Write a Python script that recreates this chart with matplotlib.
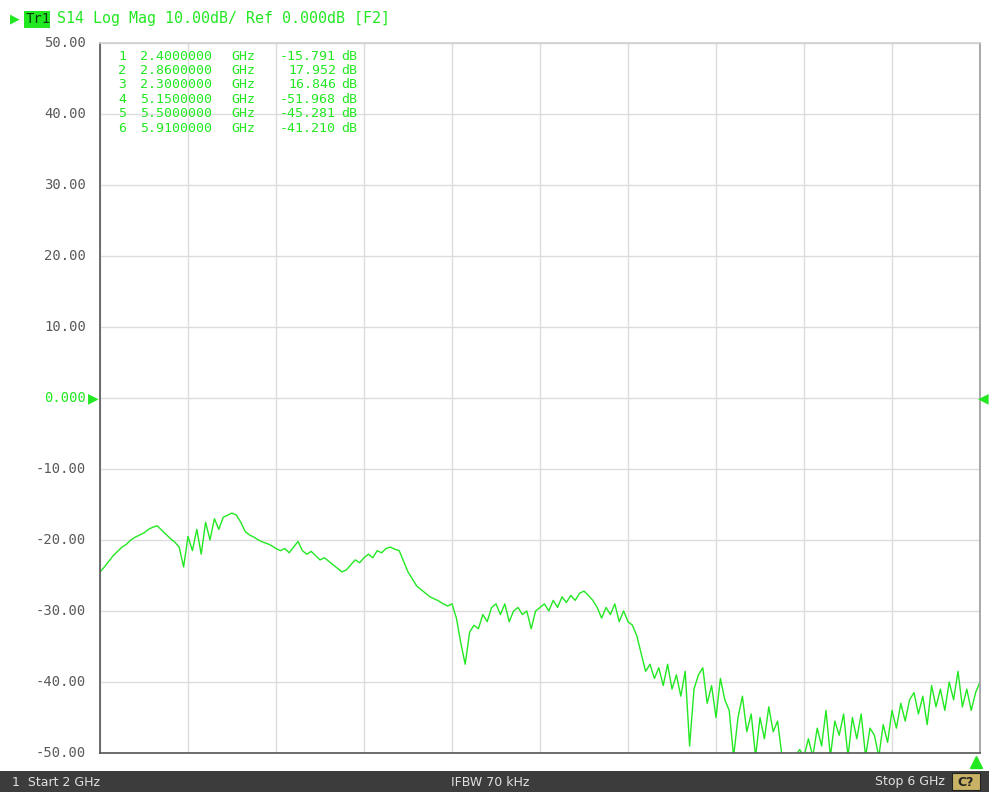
import numpy as np
import matplotlib
matplotlib.use("Agg")
import matplotlib.pyplot as plt
import matplotlib.transforms as mtransforms
from matplotlib.patches import Rectangle

W, H = 989, 792

# sweep settings
start_ghz, stop_ghz = 2.0, 6.0
ref_db, scale_db = 0.0, 10.0
y_ticks = [50, 40, 30, 20, 10, 0, -10, -20, -30, -40, -50]

# S14 magnitude trace (dB), evenly spaced over the sweep
s14_db = [
    -24.5, -23.8, -23.0, -22.2, -21.6, -21.0, -20.6, -20.0, -19.6, -19.3,
    -19.0, -18.5, -18.2, -18.0, -18.6, -19.2, -19.8, -20.3, -21.0, -23.8,
    -19.5, -21.5, -18.5, -22.0, -17.5, -20.0, -17.0, -18.5, -16.8, -16.5,
    -16.2, -16.5, -17.5, -18.8, -19.3, -19.6, -20.0, -20.3, -20.5, -20.8,
    -21.2, -21.5, -21.2, -21.8, -21.0, -20.2, -21.5, -22.0, -21.6, -22.2,
    -22.8, -22.5, -23.0, -23.5, -24.0, -24.5, -24.2, -23.5, -22.8, -23.2,
    -22.5, -22.0, -22.5, -21.5, -21.8, -21.2, -21.0, -21.3, -21.5, -23.0,
    -24.5, -25.5, -26.5, -27.0, -27.5, -28.0, -28.3, -28.6, -29.0, -29.3,
    -29.0, -31.0, -34.5, -37.5, -33.0, -32.0, -32.5, -30.5, -31.5, -29.5,
    -29.0, -30.5, -29.0, -31.5, -30.0, -29.5, -30.5, -30.0, -32.5, -30.0,
    -29.5, -29.0, -30.0, -28.5, -29.5, -28.0, -28.8, -27.8, -28.5, -27.5,
    -27.2, -27.8, -28.5, -29.5, -31.0, -29.5, -30.5, -29.0, -31.5, -30.0,
    -31.5, -32.0, -33.5, -36.0, -38.5, -37.5, -39.5, -38.0, -40.5, -37.5,
    -41.0, -39.0, -42.0, -38.5, -49.0, -41.0, -39.0, -38.0, -43.0, -40.5,
    -45.0, -39.5, -42.5, -44.0, -50.5, -45.0, -42.0, -47.0, -44.5, -50.5,
    -45.0, -48.0, -43.5, -47.0, -45.5, -50.5, -50.0, -51.0, -50.5, -49.5,
    -50.5, -48.0, -50.5, -46.5, -49.0, -44.0, -50.5, -45.5, -47.5, -44.5,
    -50.5, -45.0, -48.0, -44.5, -50.5, -46.5, -47.5, -50.5, -46.0, -48.5,
    -44.0, -46.5, -43.0, -45.5, -42.5, -41.5, -44.5, -42.0, -46.0, -40.5,
    -43.5, -41.0, -44.0, -40.0, -42.5, -38.5, -43.5, -41.0, -44.0, -41.5,
    -40.0,
]
freq_ghz = np.linspace(start_ghz, stop_ghz, len(s14_db))

# marker table
marker_ids = ["1", "2", "3", "4", "5", "6"]
marker_freqs = ["2.4000000", "2.8600000", "2.3000000", "5.1500000", "5.5000000", "5.9100000"]
marker_vals = ["-15.791", "17.952", "16.846", "-51.968", "-45.281", "-41.210"]
marker_bottom_ghz = [5.98]

GREEN = "#22e822"
MONO = "DejaVu Sans Mono"

fig = plt.figure(figsize=(W / 100, H / 100), dpi=100)
fig.patch.set_facecolor("white")


def px(x, y):
    return x / W, 1 - y / H


# plot area
x0, x1, y0, y1 = 100, 980, 43, 753
ax = fig.add_axes([x0 / W, 1 - y1 / H, (x1 - x0) / W, (y1 - y0) / H])
ax.set_xlim(start_ghz, stop_ghz)
ax.set_ylim(-50, 50)
ax.set_xticks(np.linspace(start_ghz, stop_ghz, 11))
ax.set_yticks(y_ticks)
ax.tick_params(length=0, labelleft=False, labelbottom=False)
ax.grid(True, color="#dcdcdc", linewidth=1.0)
ax.set_axisbelow(True)
for side, c in [("left", "#555555"), ("bottom", "#555555"), ("top", "#cfcfcf"), ("right", "#9a9a9a")]:
    ax.spines[side].set_color(c)
    ax.spines[side].set_linewidth(1.2)

ax.plot(freq_ghz, s14_db, color=GREEN, linewidth=1.0)

# markers sitting below the display range
ax.plot(marker_bottom_ghz, [-50] * len(marker_bottom_ghz), marker="^", color=GREEN,
        markersize=9, linestyle="none", clip_on=False,
        transform=ax.transData + mtransforms.ScaledTranslation(0, -0.09, fig.dpi_scale_trans))

# y labels
ytrans = mtransforms.blended_transform_factory(fig.transFigure, ax.transData)
for v in y_ticks:
    if v == ref_db:
        fig.text(86 / W, v, "0.000", transform=ytrans, ha="right", va="center",
                 fontsize=10, family=MONO, color=GREEN)
    else:
        fig.text(86 / W, v, f"{v:.2f}", transform=ytrans, ha="right", va="center",
                 fontsize=10, family=MONO, color="#5a5a5a")

# reference level arrows
fig.text(88 / W, ref_db, "\u25B6", transform=ytrans, ha="left", va="center",
         fontsize=10, color=GREEN, family="DejaVu Sans")
fig.text(989 / W, ref_db, "\u25C0", transform=ytrans, ha="right", va="center",
         fontsize=10, color=GREEN, family="DejaVu Sans")

# trace header
fig.text(*px(10, 19), "\u25B6", ha="left", va="center", fontsize=9, color=GREEN, family="DejaVu Sans")
fig.patches.append(Rectangle(px(24, 28), 26 / W, 17 / H, transform=fig.transFigure,
                             facecolor=GREEN, edgecolor="none"))
fig.text(*px(26, 19), "Tr1", ha="left", va="center", fontsize=10, color="#0a3a0a", family=MONO)
fig.text(*px(57, 19), "S14 Log Mag 10.00dB/ Ref 0.000dB [F2]", ha="left", va="center",
         fontsize=10.8, color=GREEN, family=MONO)

# marker table
for i, (mid, mf, mv) in enumerate(zip(marker_ids, marker_freqs, marker_vals)):
    yy = 56 + i * 14.4
    fig.text(*px(118, yy), mid, ha="left", va="center", fontsize=9.5, color=GREEN, family=MONO)
    fig.text(*px(140, yy), mf, ha="left", va="center", fontsize=9.5, color=GREEN, family=MONO)
    fig.text(*px(231, yy), "GHz", ha="left", va="center", fontsize=9.5, color=GREEN, family=MONO)
    fig.text(*px(336, yy), mv, ha="right", va="center", fontsize=9.5, color=GREEN, family=MONO)
    fig.text(*px(341, yy), "dB", ha="left", va="center", fontsize=9.5, color=GREEN, family=MONO)

# channel status bar
fig.patches.append(Rectangle(px(0, 792), 1, 21 / H, transform=fig.transFigure,
                             facecolor="#3c3c3c", edgecolor="none"))
fig.text(*px(12, 782), "1  Start 2 GHz", ha="left", va="center", fontsize=9,
         color="#e0e0e0", family="DejaVu Sans")
fig.text(*px(490, 782), "IFBW 70 kHz", ha="center", va="center", fontsize=9,
         color="#e0e0e0", family="DejaVu Sans")
fig.text(*px(945, 782), "Stop 6 GHz", ha="right", va="center", fontsize=9,
         color="#e0e0e0", family="DejaVu Sans")
fig.patches.append(Rectangle(px(952, 790), 28 / W, 17 / H, transform=fig.transFigure,
                             facecolor="#c9b266", edgecolor="#222222", linewidth=0.8))
fig.text(*px(966, 782), "C?", ha="center", va="center", fontsize=9,
         color="#222222", family="DejaVu Sans", fontweight="bold")

fig.savefig("out.png", dpi=100, facecolor="white")
